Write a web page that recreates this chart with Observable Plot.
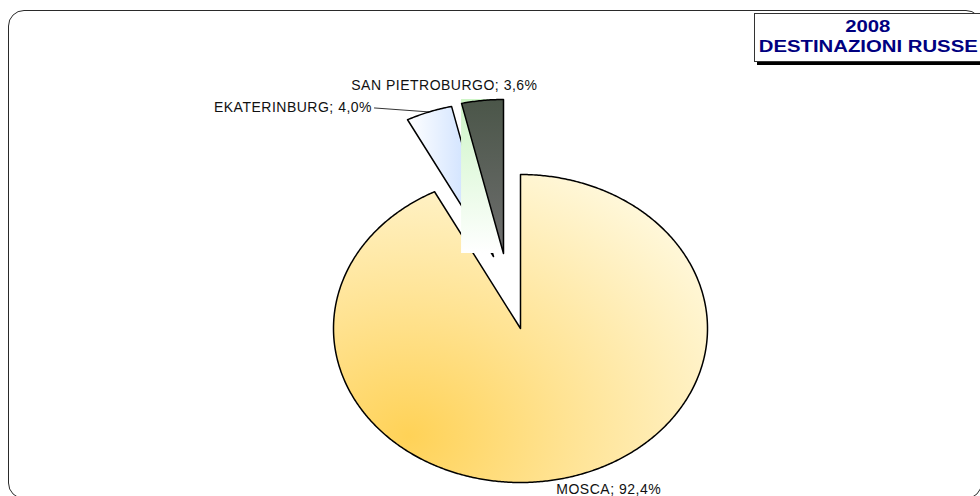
<!DOCTYPE html>
<html><head><meta charset="utf-8">
<script src="https://cdn.jsdelivr.net/npm/d3@7"></script>
<script src="https://cdn.jsdelivr.net/npm/@observablehq/plot@0.6"></script>
<style>
html,body{margin:0;padding:0;background:#fff;}
#wrap{position:relative;width:980px;height:496px;overflow:hidden;background:#fff;font-family:"Liberation Sans",Arial,sans-serif;}
#chart{position:absolute;left:0;top:0;}
#frame{position:absolute;left:8px;top:10px;width:972px;height:487px;border:1.5px solid #2a2a2a;border-radius:16px;pointer-events:none;}
#titlebox{position:absolute;left:754px;top:13px;width:240px;height:47px;border:1px solid #333;background:#fff;box-shadow:3px 3px 0 #000;}
.tl{position:absolute;left:754px;width:228px;text-align:center;font-weight:bold;font-size:16px;line-height:20px;color:#000080;white-space:nowrap;}
.tl span{display:inline-block;transform:scaleX(1.27);}
#chart svg text{letter-spacing:0.5px;}
</style></head>
<body>
<div id="wrap">
  <div id="chart"></div>
  <div id="frame"></div>
  <div id="titlebox"></div>
  <div class="tl" style="top:17.3px"><span id="t1"></span></div>
  <div class="tl" style="top:37.3px"><span id="t2"></span></div>
</div>
<script>
// ---- data ----
const categories = ["MOSCA", "EKATERINBURG", "SAN PIETROBURGO"];
const shares = [92.4, 4.0, 3.6];
const titleLines = ["2008", "DESTINAZIONI RUSSE"];

// ---- layout / style ----
const CX = 520, CY = 328, RX = 187, RY = 154;
const explodePx = [[0, 0], [-27, -72], [-17, -75]];
const labelPx = [
  {dx: 44, dy: 11, anchor: "middle", leader: false},
  {dx: -57, dy: -4, anchor: "end", leader: true},
  {dx: -38, dy: -15, anchor: "middle", leader: false}
];
const gradIds = ["gMosca", "gEkat", "gSP"];

document.getElementById("t1").textContent = titleLines[0];
document.getElementById("t2").textContent = titleLines[1];

const fmt = v => v.toFixed(1).replace(".", ",") + "%";
const arcs = d3.pie().sort(null).value(d => d)(shares);

const slices = arcs.map((a, i) => {
  const ex = explodePx[i][0] / RX, ey = -explodePx[i][1] / RY;
  const pts = [{x: ex, y: ey}];
  const n = Math.max(8, Math.ceil((a.endAngle - a.startAngle) / (Math.PI / 360)));
  for (let k = 0; k <= n; k++) {
    const t = a.startAngle + (a.endAngle - a.startAngle) * k / n;
    pts.push({x: ex + Math.sin(t), y: ey + Math.cos(t)});
  }
  pts.push({x: ex, y: ey});
  const mid = (a.startAngle + a.endAngle) / 2;
  const mx = ex + Math.sin(mid), my = ey + Math.cos(mid);
  const L = labelPx[i];
  const label = {
    text: categories[i] + "; " + fmt(shares[i]),
    x: mx + L.dx / RX, y: my - L.dy / RY,
    mx, my, anchor: L.anchor, leader: L.leader
  };
  const xs = pts.map(p => p.x), ys = pts.map(p => p.y);
  const bbox = {x1: d3.min(xs), x2: d3.max(xs), y1: d3.min(ys), y2: d3.max(ys)};
  return {pts, label, bbox};
});

const marks = [];
// Mosca and Ekaterinburg wedges
marks.push(Plot.line(slices[0].pts, {x: "x", y: "y", fill: `url(#${gradIds[0]})`, stroke: "#000", strokeWidth: 1.5}));
marks.push(Plot.line(slices[1].pts, {x: "x", y: "y", fill: `url(#${gradIds[1]})`, stroke: "#000", strokeWidth: 1.5}));
// gradient bleed of the San Pietroburgo slice
marks.push(Plot.rect([slices[2].bbox], {x1: "x1", x2: "x2", y1: "y1", y2: "y2", fill: "url(#gBleed)"}));
marks.push(Plot.line(slices[2].pts, {x: "x", y: "y", fill: `url(#${gradIds[2]})`, stroke: "#000", strokeWidth: 1.5}));
// labels
slices.forEach(s => {
  const L = s.label;
  if (L.leader) {
    marks.push(Plot.link([L], {x1: d => d.x + 2 / RX, y1: "y", x2: "mx", y2: "my", stroke: "#000", strokeWidth: 0.8}));
  }
  marks.push(Plot.text([L], {x: "x", y: "y", text: "text", textAnchor: L.anchor, fontSize: 14, fill: "#111",
    fontFamily: "Liberation Sans, Arial, sans-serif"}));
});

const chart = Plot.plot({
  width: 980, height: 496, margin: 0,
  x: {domain: [-1, 1], range: [CX - RX, CX + RX], axis: null},
  y: {domain: [-1, 1], range: [CY + RY, CY - RY], axis: null},
  style: {background: "transparent", overflow: "visible"},
  marks
});

const defs = d3.select(chart).insert("defs", ":first-child");
function lin(id, x1, y1, x2, y2, stops) {
  const g = defs.append("linearGradient").attr("id", id)
    .attr("x1", x1).attr("y1", y1).attr("x2", x2).attr("y2", y2);
  stops.forEach(([o, c]) => g.append("stop").attr("offset", o).attr("stop-color", c));
}
const rg = defs.append("radialGradient").attr("id", "gMosca")
  .attr("cx", 0.2).attr("cy", 0.85).attr("r", 0.95).attr("fx", 0.2).attr("fy", 0.85);
[[0, "#FFD257"], [0.45, "#FFE393"], [1, "#FFF7D8"]].forEach(([o, c]) => rg.append("stop").attr("offset", o).attr("stop-color", c));
lin("gEkat", 0, 0, 1, 0, [[0, "#FFFFFF"], [1, "#BCD6FF"]]);
lin("gSP", 0, 0, 0, 1, [[0, "#4B5649"], [1, "#6E6E6E"]]);
lin("gBleed", 0, 0, 0, 1, [[0, "#CDF5C6"], [1, "#FFFFFF"]]);

document.getElementById("chart").appendChild(chart);
</script>
</body></html>
